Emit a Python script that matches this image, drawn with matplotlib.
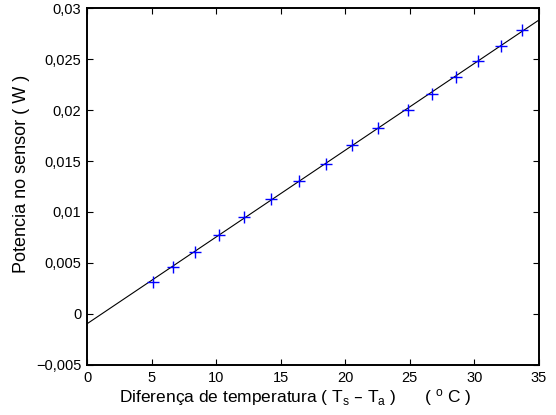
import numpy as np
import matplotlib
matplotlib.use("Agg")
import matplotlib.pyplot as plt
from matplotlib.ticker import FuncFormatter

plt.rcParams['font.family'] = ['Liberation Sans', 'DejaVu Sans']
plt.rcParams['mathtext.default'] = 'regular'

# measured points: temperature difference (C) and sensor power (W)
delta_t = [5.13, 6.68, 8.35, 10.23, 12.16, 14.25, 16.39, 18.48,
           20.54, 22.51, 24.83, 26.68, 28.54, 30.29, 32.05, 33.70]
power = [0.00311, 0.00458, 0.00611, 0.00775, 0.00949, 0.01126, 0.01302, 0.01475,
         0.01652, 0.01822, 0.02000, 0.02157, 0.02322, 0.02476, 0.02630, 0.02784]

# linear fit shown on the chart
fit_slope = 0.000851
fit_intercept = -0.00096
x_range = [0, 35]

x_ticks = [0, 5, 10, 15, 20, 25, 30, 35]
y_ticks = [-0.005, 0, 0.005, 0.01, 0.015, 0.02, 0.025, 0.03]


def comma_fmt(v, pos):
    if abs(v) < 1e-12:
        return '0'
    s = ('%g' % v).replace('.', ',').replace('-', '\u2212')
    return s


fig = plt.figure(figsize=(5.56, 4.15), dpi=100)
ax = fig.add_axes([0.1565, 0.1205, 0.8129, 0.8602])

xf = np.array(x_range, dtype=float)
ax.plot(xf, fit_slope * xf + fit_intercept, color='black', lw=0.8)
ax.plot(delta_t, power, linestyle='none', marker='+', color='blue',
        markersize=9, markeredgewidth=1.0)

ax.set_xlim(0, 35)
ax.set_ylim(-0.005, 0.03)
ax.set_xticks(x_ticks)
ax.set_yticks(y_ticks)
ax.yaxis.set_major_formatter(FuncFormatter(comma_fmt))
ax.tick_params(direction='in', length=4, width=0.8, top=True, right=True,
               labelsize=10.5, pad=4)
for sp in ax.spines.values():
    sp.set_linewidth(1.4)

ax.set_xlabel('Diferença de temperatura ( T$_s$ \u2013 T$_a$ )      ( $^o$ C )',
              fontsize=12.5)
ax.set_ylabel('Potencia no sensor ( W )', fontsize=13)
ax.xaxis.set_label_coords(0.46, -0.062)
ax.yaxis.set_label_coords(-0.127, 0.535)

fig.savefig('out.png', dpi=100)
